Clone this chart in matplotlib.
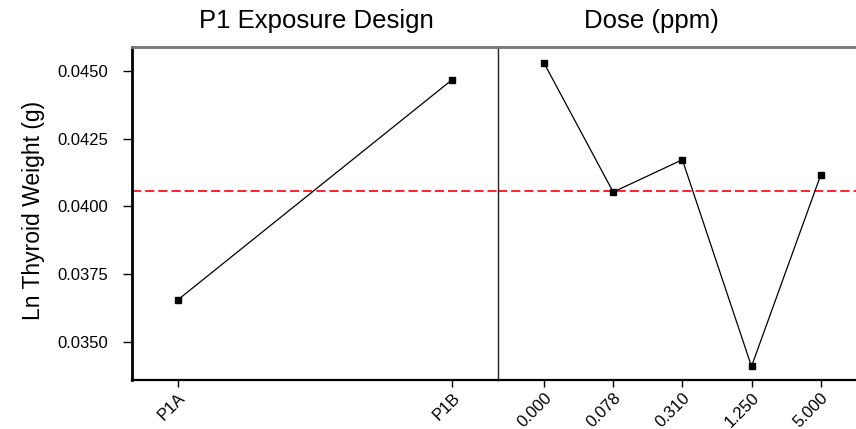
import matplotlib
matplotlib.use("Agg")
import matplotlib.pyplot as plt

design_labels = ["P1A", "P1B"]
design_means = [0.03656, 0.04466]
dose_labels = ["0.000", "0.078", "0.310", "1.250", "5.000"]
dose_means = [0.04528, 0.04053, 0.04172, 0.03411, 0.04115]
grand_mean = 0.04058
y_ticks = [0.0350, 0.0375, 0.0400, 0.0425, 0.0450]

plt.rcParams["font.family"] = ["Liberation Sans", "DejaVu Sans"]

W, H = 856, 429
fig = plt.figure(figsize=(W / 100, H / 100), dpi=100)

def frac(x0, y0, x1, y1):
    return [x0 / W, 1 - y1 / H, (x1 - x0) / W, (y1 - y0) / H]

ax1 = fig.add_axes(frac(132, 47.3, 497.7, 380))
ax2 = fig.add_axes(frac(497.7, 47.3, 867, 380), sharey=ax1)

ylim = (0.03361, 0.04586)

for ax, labels, vals in ((ax1, design_labels, design_means), (ax2, dose_labels, dose_means)):
    x = list(range(len(labels)))
    ax.plot(x, vals, color="black", lw=0.9, marker="s", ms=4.3, mfc="black", mec="black", zorder=3)
    ax.axhline(grand_mean, color="#ff0000", lw=1.2, ls=(0, (5.5, 2.4)), zorder=2)
    ax.set_xticks(x)
    ax.set_xticklabels(labels, rotation=45, ha="right", va="top", rotation_mode="anchor", fontsize=12)
    ax.tick_params(axis="x", length=5, width=1, pad=2.5, direction="out", color="black")
    ax.spines["right"].set_visible(False)
    ax.spines["top"].set_color("#777777")
    ax.spines["top"].set_linewidth(2)
    ax.spines["bottom"].set_linewidth(1.6)
    ax.set_ylim(ylim)

ax1.set_xlim(-0.167, 1.167)
ax2.set_xlim(-0.67, 4.67)

ax1.set_yticks(y_ticks)
ax1.set_yticklabels([f"{v:.4f}" for v in y_ticks], fontsize=12)
ax1.tick_params(axis="y", length=6.5, width=1, pad=10.5)
ax1.spines["left"].set_linewidth(2)

ax2.tick_params(axis="y", left=False, labelleft=False)
ax2.spines["left"].set_linewidth(1)
ax2.spines["left"].set_color("#222222")

fig.text(34 / W, 1 - 210 / H, "Ln Thyroid Weight (g)", rotation=90, ha="center", va="center", fontsize=16.5)
fig.text(316 / W, 1 - 21 / H, "P1 Exposure Design", ha="center", va="center", fontsize=18.5)
fig.text(651 / W, 1 - 21 / H, "Dose (ppm)", ha="center", va="center", fontsize=18.5)

fig.savefig("out.png", dpi=100)
